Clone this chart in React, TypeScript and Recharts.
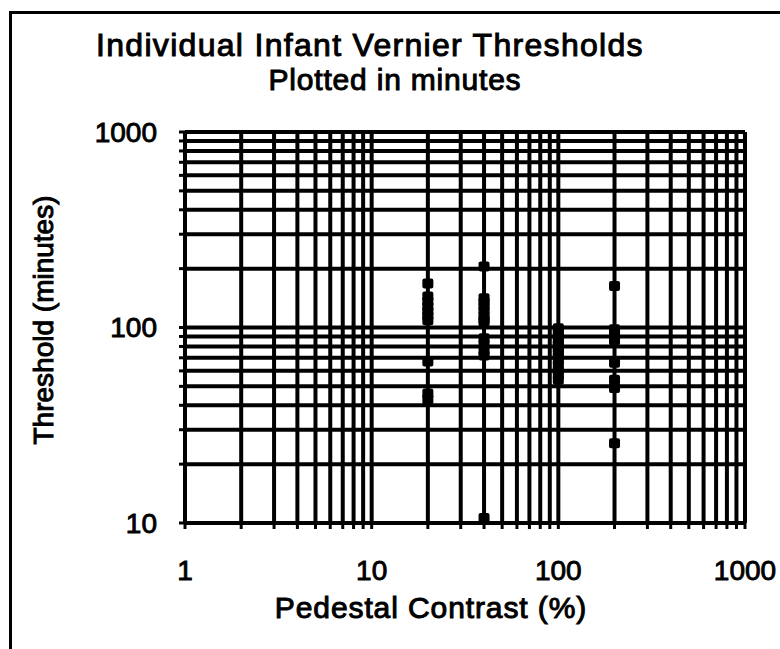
import { ScatterChart, Scatter, XAxis, YAxis, CartesianGrid } from 'recharts'

const FONT = '"Liberation Sans", Arial, sans-serif'

// log ticks: every 1..9 of each decade
const X_TICKS = [1, 2, 3, 4, 5, 6, 7, 8, 9, 10, 20, 30, 40, 50, 60, 70, 80, 90, 100, 200, 300, 400, 500, 600, 700, 800, 900, 1000]
const Y_TICKS = [10, 20, 30, 40, 50, 60, 70, 80, 90, 100, 200, 300, 400, 500, 600, 700, 800, 900, 1000]
const DECADES = [1, 10, 100, 1000]

// thresholds (minutes) per pedestal contrast (%)
const at20 = [168, 144, 136, 128, 121, 115, 109, 67, 46, 43]
const at40 = [205, 141, 135, 128, 122, 115, 110, 107, 88, 82, 76, 72, 10.6]
const at100 = [99, 94, 90, 86, 82, 78, 75, 71, 68, 64, 60, 57, 54]
const at200 = [163, 98, 92, 86, 66, 54, 49, 25.6]

const points = [
  ...at20.map(y => ({ x: 20, y })),
  ...at40.map(y => ({ x: 40, y })),
  ...at100.map(y => ({ x: 100, y })),
  ...at200.map(y => ({ x: 200, y })),
]

const fmt = (v: number) => (DECADES.includes(v) ? String(v) : '')

const Marker = (props: any) => {
  const { cx, cy } = props
  return <rect x={cx - 5.5} y={cy - 5} width={11} height={10} rx={2} fill="#000" />
}

const tickStyle = { fill: '#000', stroke: '#000', strokeWidth: 0.9, fontSize: 28, fontFamily: FONT }

export default function App() {
  return (
    <div style={{ position: 'absolute', left: 0, top: 0, width: 780, height: 649, background: '#fff', fontFamily: FONT }}>
      <div style={{ position: 'absolute', left: 9, top: 11, width: 780, height: 649, borderTop: '3px solid #000', borderLeft: '3px solid #000' }} />
      <ScatterChart width={780} height={649} margin={{ top: 132, right: 35, left: 125, bottom: 86 }}>
        <CartesianGrid stroke="#000" strokeWidth={4} />
        <XAxis
          type="number"
          dataKey="x"
          scale="log"
          domain={[1, 1000]}
          ticks={X_TICKS}
          interval={0}
          allowDataOverflow
          tickFormatter={fmt}
          height={40}
          tickSize={6}
          tickMargin={31}
          axisLine={{ stroke: '#000', strokeWidth: 4 }}
          tickLine={{ stroke: '#000', strokeWidth: 3 }}
          tick={tickStyle}
        />
        <YAxis
          type="number"
          dataKey="y"
          scale="log"
          domain={[10, 1000]}
          ticks={Y_TICKS}
          interval={0}
          allowDataOverflow
          tickFormatter={fmt}
          width={60}
          tickSize={6}
          tickMargin={22}
          axisLine={{ stroke: '#000', strokeWidth: 4 }}
          tickLine={{ stroke: '#000', strokeWidth: 3 }}
          tick={tickStyle}
        />
        <Scatter data={points} shape={Marker} isAnimationActive={false} />
      </ScatterChart>
      <svg width={780} height={649} style={{ position: 'absolute', left: 0, top: 0, pointerEvents: 'none' }}>
        <g fill="#000" stroke="#000" strokeWidth={1} fontFamily={FONT}>
          <text x={370} y={56} fontSize={32} letterSpacing={1.3} textAnchor="middle">Individual Infant Vernier Thresholds</text>
          <text x={395} y={90} fontSize={30} letterSpacing={0.8} textAnchor="middle">Plotted in minutes</text>
          <text x={431} y={618} fontSize={30} letterSpacing={0.9} textAnchor="middle">Pedestal Contrast (%)</text>
          <text x={53} y={320} fontSize={28} textAnchor="middle" transform="rotate(-90 53 320)">Threshold (minutes)</text>
        </g>
      </svg>
    </div>
  )
}
